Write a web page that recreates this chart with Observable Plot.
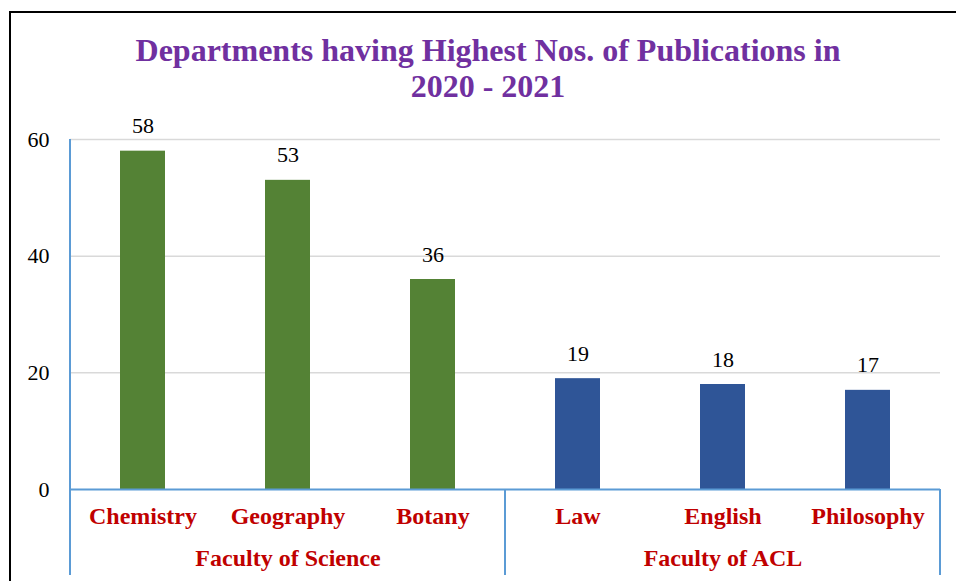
<!DOCTYPE html>
<html><head><meta charset="utf-8">
<script src="https://cdn.jsdelivr.net/npm/d3@7"></script>
<script src="https://cdn.jsdelivr.net/npm/@observablehq/plot@0.6"></script>
<style>
body{margin:0;background:#fff;}
#wrap{position:relative;width:956px;height:581px;overflow:hidden;font-family:"Liberation Serif","Times New Roman",serif;}
#frame{position:absolute;left:9px;top:11px;width:1000px;height:1000px;border-left:2px solid #000;border-top:2px solid #000;pointer-events:none;}
#title{position:absolute;left:0;top:32px;width:976px;text-align:center;color:#7030a0;font-weight:bold;font-size:32px;line-height:36px;}
#chart{position:absolute;left:0;top:0;}
</style>
</head><body>
<div id="wrap"><div id="chart"></div><div id="frame"></div>
<div id="title">Departments having Highest Nos. of Publications in<br>2020 - 2021</div></div>
<script>
const departments = ["Chemistry", "Geography", "Botany", "Law", "English", "Philosophy"];
const publications = [58, 53, 36, 19, 18, 17];
const facultyOf = ["Faculty of Science", "Faculty of Science", "Faculty of Science", "Faculty of ACL", "Faculty of ACL", "Faculty of ACL"];
const facultyNames = ["Faculty of Science", "Faculty of ACL"];
const facultyColors = ["#548235", "#2f5597"];
const yTicks = [0, 20, 40, 60];

const rows = departments.map((d, i) => ({department: d, value: publications[i], faculty: facultyOf[i]}));
const facultyLabels = facultyNames.map(f => {
  const members = departments.filter((d, i) => facultyOf[i] === f);
  return {faculty: f, center: members[Math.floor(members.length / 2)]};
});

const axisBlue = "#5b9bd5";

function separators(index, scales, values, dims) {
  const x = scales.x, y = scales.y;
  const bw = x.bandwidth();
  const step = x.step();
  const gap = (step - bw) / 2;
  const bottom = dims.height - 6;
  const g = d3.create("svg:g");
  const lines = [];
  lines.push({x: x(departments[0]) - gap, y1: y(d3.max(yTicks))});
  facultyNames.forEach((f, k) => {
    if (k === 0) return;
    const first = departments[facultyOf.indexOf(f)];
    lines.push({x: x(first) - gap, y1: y(0)});
  });
  lines.push({x: x(departments[departments.length - 1]) + bw + gap, y1: y(0)});
  for (const l of lines) {
    g.append("line").attr("x1", l.x).attr("x2", l.x).attr("y1", l.y1).attr("y2", bottom)
      .attr("stroke", axisBlue).attr("stroke-width", 2);
  }
  return g.node();
}

const chart = Plot.plot({
  width: 956,
  height: 581,
  marginLeft: 70,
  marginRight: 16,
  marginTop: 139,
  marginBottom: 92,
  style: {fontFamily: "'Liberation Serif', 'Times New Roman', serif", fontSize: "22px", background: "transparent", color: "#000"},
  x: {domain: departments, paddingInner: 0.69, paddingOuter: 0.345, axis: null, label: null},
  y: {domain: [0, 60], axis: null, label: null},
  color: {domain: facultyNames, range: facultyColors},
  marks: [
    Plot.ruleY(yTicks.filter(t => t > 0), {stroke: "#d9d9d9", strokeWidth: 1.5}),
    Plot.barY(rows, {x: "department", y: "value", fill: "faculty"}),
    Plot.ruleY([0], {stroke: axisBlue, strokeWidth: 2}),
    separators,
    Plot.axisY({ticks: yTicks, tickSize: 0, tickPadding: 21, fontSize: 22, fill: "#000", label: null}),
    Plot.text(rows, {x: "department", y: "value", text: d => String(d.value), dy: -25, fontSize: 22, fill: "#000"}),
    Plot.text(rows, {x: "department", y: 0, text: "department", dy: 27, fontSize: 24, fontWeight: "bold", fill: "#c00000"}),
    Plot.text(facultyLabels, {x: "center", y: 0, text: "faculty", dy: 69, fontSize: 24, fontWeight: "bold", fill: "#c00000"})
  ]
});
document.getElementById("chart").appendChild(chart);
</script>
</body></html>
